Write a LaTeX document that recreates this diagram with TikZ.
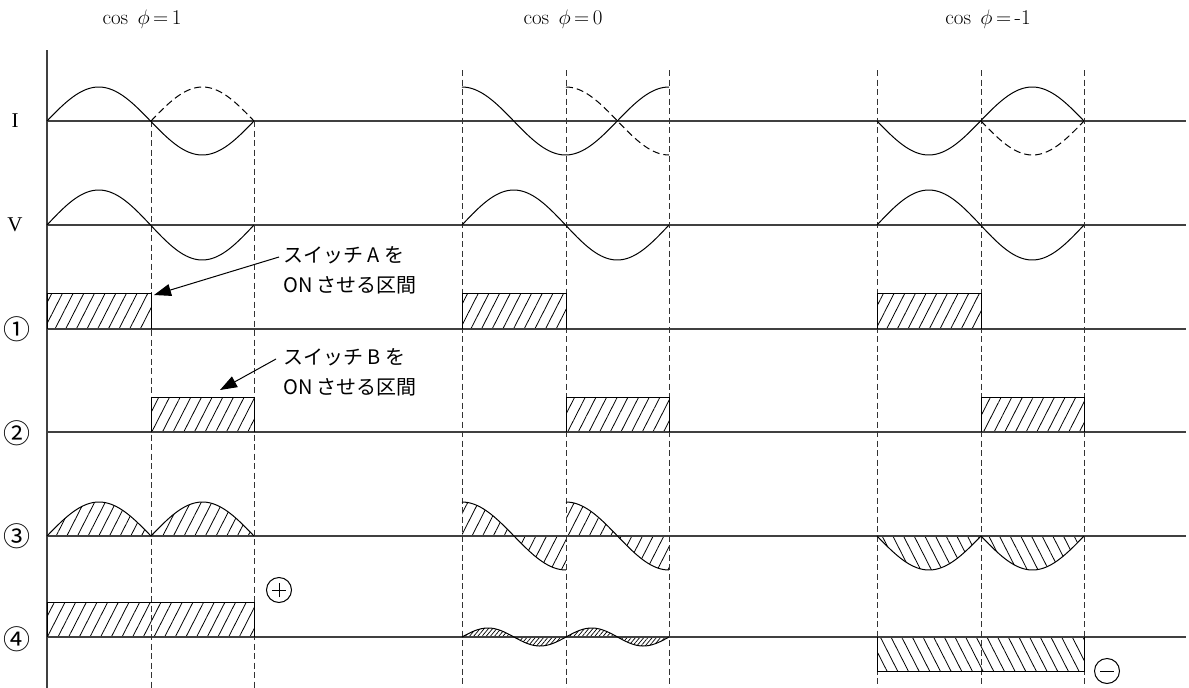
\RequirePackage{fix-cm}
\documentclass[tikz,border=0pt]{standalone}
\usepackage{fontspec}
\newfontfamily\jp{Noto Sans CJK JP}
\newfontfamily\lser{Liberation Serif}
\usetikzlibrary{patterns.meta,arrows.meta}
\tikzset{
  axisline/.style={line width=1.1pt, black!75},
  guide/.style={line width=0.9pt, black!80, dash pattern=on 6pt off 3.5pt},
  wave/.style={line width=1pt, black},
  dwave/.style={line width=1pt, black, dash pattern=on 7pt off 4pt},
  hatchR/.style={pattern={Lines[angle=63,distance=9.5pt,line width=0.8pt]}},
  hatchL/.style={pattern={Lines[angle=117,distance=9.5pt,line width=0.8pt]}},
  hatchF/.style={pattern={Lines[angle=50,distance=3.2pt,line width=0.7pt]}},
  lbl/.style={font=\jp\fontsize{27}{30}\selectfont, inner sep=0pt},
  vlbl/.style={font=\lser\fontsize{21}{24}\selectfont, inner sep=0pt},
  ttl/.style={font=\fontsize{21}{24}\selectfont, inner sep=0pt},
  note/.style={font=\jp\fontsize{20}{30}\selectfont, align=left, inner sep=0pt, anchor=west},
  sign/.style={circle, draw, line width=1pt, minimum size=25pt, inner sep=0pt},
  tip/.style={line width=1pt, -{Triangle[length=17pt,width=12pt]}}
}
\begin{document}
\begin{tikzpicture}[x=1pt,y=-1pt]
\useasboundingbox (0,0) rectangle (1189,688);

% titles
\node[ttl] (t1) at (142,19) {$\cos\;\phi\,{=}\,$1};
\node[ttl] (t2) at (563,19) {$\cos\;\phi\,{=}\,$0};
\node[ttl] (t3) at (988,19) {$\cos\;\phi\,{=}\,$-1};

% row labels
\node[vlbl] (lI) at (15,121) {I};
\node[vlbl] (lV) at (15,225) {V};
\node[lbl] (l1) at (17,329) {①};
\node[lbl] (l2) at (17,433) {②};
\node[lbl] (l3) at (17,536) {③};
\node[lbl] (l4) at (17,639) {④};

% hatched areas
% panel 1
\fill[hatchR] (47,329) rectangle (151,293);
\fill[hatchR] (151,432) rectangle (254,397);
\fill[hatchR] (47,536) -- plot[domain=0:180,samples=40] ({47+\x/180*104},{536-34*sin(\x)}) -- cycle;
\fill[hatchR] (151,536) -- plot[domain=0:180,samples=40] ({151+\x/180*103},{536-34*sin(\x)}) -- cycle;
\fill[hatchR] (47,637) rectangle (254,602);
% panel 2
\fill[hatchR] (462,329) rectangle (566,293);
\fill[hatchR] (566,432) rectangle (669,397);
\fill[hatchR] (462,536) -- plot[domain=0:180,samples=40] ({462+\x/180*104},{536-34*cos(\x)}) -- (566,536) -- cycle;
\fill[hatchR] (566,536) -- plot[domain=0:180,samples=40] ({566+\x/180*103},{536-34*cos(\x)}) -- (669,536) -- cycle;
\fill[hatchF] (462,637) -- plot[domain=0:360,samples=60] ({462+\x/360*104},{637-9*sin(\x)}) -- cycle;
\fill[hatchF] (566,637) -- plot[domain=0:360,samples=60] ({566+\x/360*103},{637-9*sin(\x)}) -- cycle;
% panel 3
\fill[hatchR] (877,329) rectangle (981,293);
\fill[hatchR] (981,432) rectangle (1084,397);
\fill[hatchL] (877,536) -- plot[domain=0:180,samples=40] ({877+\x/180*104},{536+34*sin(\x)}) -- cycle;
\fill[hatchL] (981,536) -- plot[domain=0:180,samples=40] ({981+\x/180*103},{536+34*sin(\x)}) -- cycle;
\fill[hatchL] (877,637) rectangle (1084,671);

% axes
\draw[axisline] (47,50) -- (47,688);
\foreach \yy in {121,225,329,432,536,637}
  \draw[axisline] (47,\yy) -- (1186,\yy);

% guides
\draw[guide] (151,121) -- (151,688);
\draw[guide] (254,121) -- (254,688);
\foreach \xx in {462,566,669,877,981,1084}
  \draw[guide] (\xx,70) -- (\xx,688);

% rectangles outlines
\draw[wave] (47,329) |- (151,293) -- (151,329);
\draw[wave] (151,432) |- (254,397) -- (254,432);
\draw[wave] (47,637) |- (254,602) -- (254,637);
\draw[wave] (462,329) |- (566,293) -- (566,329);
\draw[wave] (566,432) |- (669,397) -- (669,432);
\draw[wave] (877,329) |- (981,293) -- (981,329);
\draw[wave] (981,432) |- (1084,397) -- (1084,432);
\draw[wave] (877,637) |- (1084,671) -- (1084,637);

% panel 1 waves
\draw[wave] plot[domain=0:360,samples=80] ({47+\x/360*207},{121-34*sin(\x)});
\draw[dwave] plot[domain=0:180,samples=40] ({151+\x/180*103},{121-34*sin(\x)});
\draw[wave] plot[domain=0:360,samples=80] ({47+\x/360*207},{225-35*sin(\x)});
\draw[wave] plot[domain=0:180,samples=40] ({47+\x/180*104},{536-34*sin(\x)});
\draw[wave] plot[domain=0:180,samples=40] ({151+\x/180*103},{536-34*sin(\x)});

% panel 2 waves
\draw[wave] plot[domain=0:360,samples=80] ({462+\x/360*207},{121-34*cos(\x)});
\draw[dwave] plot[domain=0:180,samples=40] ({566+\x/180*103},{121-34*cos(\x)});
\draw[wave] plot[domain=0:360,samples=80] ({462+\x/360*207},{225-35*sin(\x)});
\draw[wave] plot[domain=0:180,samples=40] ({462+\x/180*104},{536-34*cos(\x)});
\draw[wave] plot[domain=0:180,samples=40] ({566+\x/180*103},{536-34*cos(\x)});
\draw[wave] plot[domain=0:360,samples=60] ({462+\x/360*104},{637-9*sin(\x)});
\draw[wave] plot[domain=0:360,samples=60] ({566+\x/360*103},{637-9*sin(\x)});

% panel 3 waves
\draw[wave] plot[domain=0:360,samples=80] ({877+\x/360*207},{121+34*sin(\x)});
\draw[dwave] plot[domain=0:180,samples=40] ({981+\x/180*103},{121+34*sin(\x)});
\draw[wave] plot[domain=0:360,samples=80] ({877+\x/360*207},{225-35*sin(\x)});
\draw[wave] plot[domain=0:180,samples=40] ({877+\x/180*104},{536+34*sin(\x)});
\draw[wave] plot[domain=0:180,samples=40] ({981+\x/180*103},{536+34*sin(\x)});

% signs
\node[sign] (plus) at (279,590) {};
\draw[wave] ([xshift=-7pt]plus.center) -- ([xshift=7pt]plus.center);
\draw[wave] ([yshift=-7pt]plus.center) -- ([yshift=7pt]plus.center);
\node[sign] (minus) at (1107,671) {};
\draw[wave] ([xshift=-7pt]minus.center) -- ([xshift=7pt]minus.center);

% annotations
\node[note] (nA) at (283,270) {スイッチ A を\\ON させる区間};
\node[note] (nB) at (283,372) {スイッチ B を\\ON させる区間};
\coordinate (aS) at (279,257);
\coordinate (aT) at (154,295);
\coordinate (bS) at (276,359);
\coordinate (bT) at (220,390);
\draw[tip] (aS) -- (aT);
\draw[tip] (bS) -- (bT);
\end{tikzpicture}
\end{document}
